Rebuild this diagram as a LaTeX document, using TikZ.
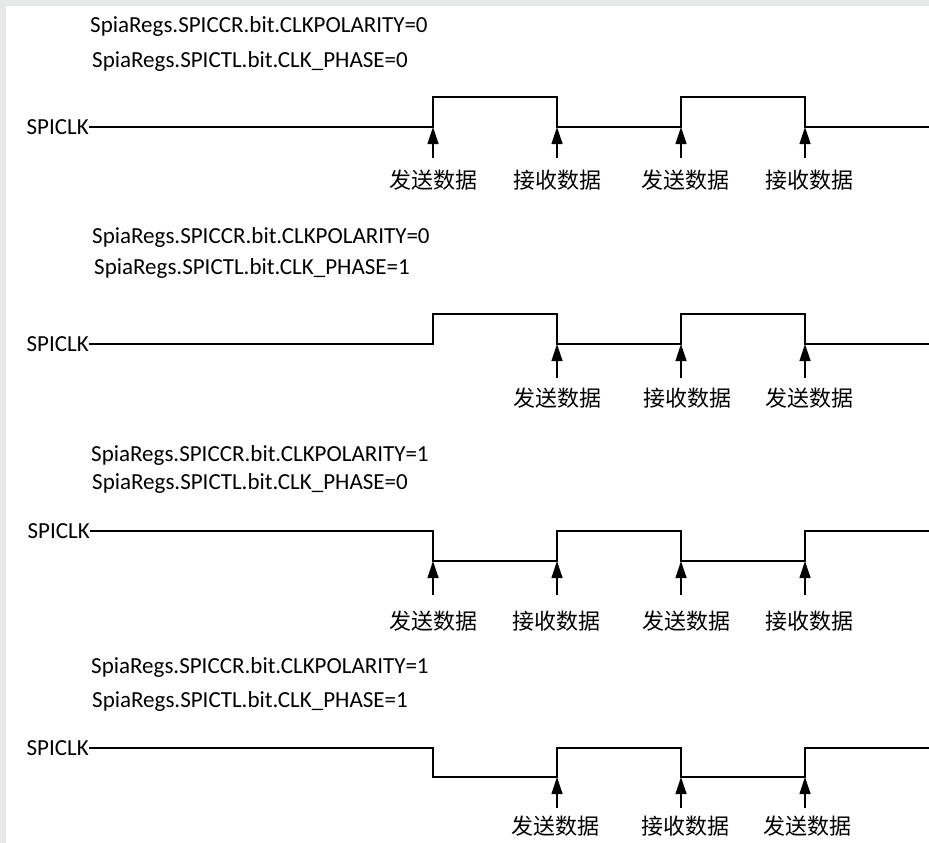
\documentclass[tikz,border=0pt]{standalone}
\usepackage{fontspec}
\setmainfont{Carlito}
\newfontfamily\cjk{Noto Sans CJK SC}
\usetikzlibrary{arrows.meta}
\definecolor{edgegray}{HTML}{E7E9E9}

\tikzset{
  reg/.style={anchor=west, inner sep=0pt, font=\fontsize{23}{26}\selectfont},
  sig/.style={anchor=east, inner sep=0pt, font=\fontsize{23}{26}\selectfont},
  wave/.style={line width=2.8pt, line join=miter},
  sample/.style={-{Triangle[width=11pt,length=17pt]}, line width=1.2pt},
  act/.style={inner sep=0pt, font=\cjk\fontsize{22}{24}\selectfont}
}

\begin{document}
\begin{tikzpicture}[x=1pt, y=-1pt]
        % Background
        \useasboundingbox (0,0) rectangle (929,843);
        \fill[edgegray] (0,0) rectangle (929,843);
        \fill[white] (6,6) rectangle (929,843);

        % Mode 1: polarity 0, phase 0
        \node[reg] (r1a) at (90,26) {SpiaRegs.SPICCR.bit.CLKPOLARITY=0};
        \node[reg] (r1b) at (92,61) {SpiaRegs.SPICTL.bit.CLK\_PHASE=0};
        \node[sig] (clk1) at (89,127) {SPICLK};
        \draw[wave] (clk1.east) -- (433,127) -- (433,97) -- (557,97) -- (557,127)
            -- (681,127) -- (681,97) -- (805,97) -- (805,127) -- (929,127);
        \foreach \x/\lx/\lab [count=\i] in {433/433/发送数据, 557/557/接收数据, 681/685/发送数据, 805/809/接收数据} {
            \coordinate (e1\i) at (\x,127);
            \coordinate (b1\i) at (\x,158);
            \node[act] (t1\i) at (\lx,180) {\lab};
            \draw[sample] (b1\i) -- (e1\i);
        }

        % Mode 2: polarity 0, phase 1
        \node[reg] (r2a) at (92,237) {SpiaRegs.SPICCR.bit.CLKPOLARITY=0};
        \node[reg] (r2b) at (94,268) {SpiaRegs.SPICTL.bit.CLK\_PHASE=1};
        \node[sig] (clk2) at (89,344) {SPICLK};
        \draw[wave] (clk2.east) -- (433,344) -- (433,314) -- (557,314) -- (557,344)
            -- (681,344) -- (681,314) -- (805,314) -- (805,344) -- (929,344);
        \foreach \x/\lx/\lab [count=\i] in {557/557/发送数据, 681/687/接收数据, 805/809/发送数据} {
            \coordinate (e2\i) at (\x,344);
            \coordinate (b2\i) at (\x,378);
            \node[act] (t2\i) at (\lx,398) {\lab};
            \draw[sample] (b2\i) -- (e2\i);
        }

        % Mode 3: polarity 1, phase 0
        \node[reg] (r3a) at (91,455) {SpiaRegs.SPICCR.bit.CLKPOLARITY=1};
        \node[reg] (r3b) at (92,483) {SpiaRegs.SPICTL.bit.CLK\_PHASE=0};
        \node[sig] (clk3) at (90,531) {SPICLK};
        \draw[wave] (clk3.east) -- (433,531) -- (433,561) -- (557,561) -- (557,531)
            -- (681,531) -- (681,561) -- (805,561) -- (805,531) -- (929,531);
        \foreach \x/\lx/\lab [count=\i] in {433/433/发送数据, 557/556/接收数据, 681/686/发送数据, 805/809/接收数据} {
            \coordinate (e3\i) at (\x,561);
            \coordinate (b3\i) at (\x,595);
            \node[act] (t3\i) at (\lx,621) {\lab};
            \draw[sample] (b3\i) -- (e3\i);
        }

        % Mode 4: polarity 1, phase 1
        \node[reg] (r4a) at (91,667) {SpiaRegs.SPICCR.bit.CLKPOLARITY=1};
        \node[reg] (r4b) at (92,701) {SpiaRegs.SPICTL.bit.CLK\_PHASE=1};
        \node[sig] (clk4) at (89,748) {SPICLK};
        \draw[wave] (clk4.east) -- (433,748) -- (433,777) -- (557,777) -- (557,748)
            -- (681,748) -- (681,777) -- (805,777) -- (805,748) -- (929,748);
        \foreach \x/\lx/\lab [count=\i] in {557/555/发送数据, 681/685/接收数据, 805/807/发送数据} {
            \coordinate (e4\i) at (\x,777);
            \coordinate (b4\i) at (\x,808);
            \node[act] (t4\i) at (\lx,826) {\lab};
            \draw[sample] (b4\i) -- (e4\i);
        }
    \end{tikzpicture}
\end{document}
